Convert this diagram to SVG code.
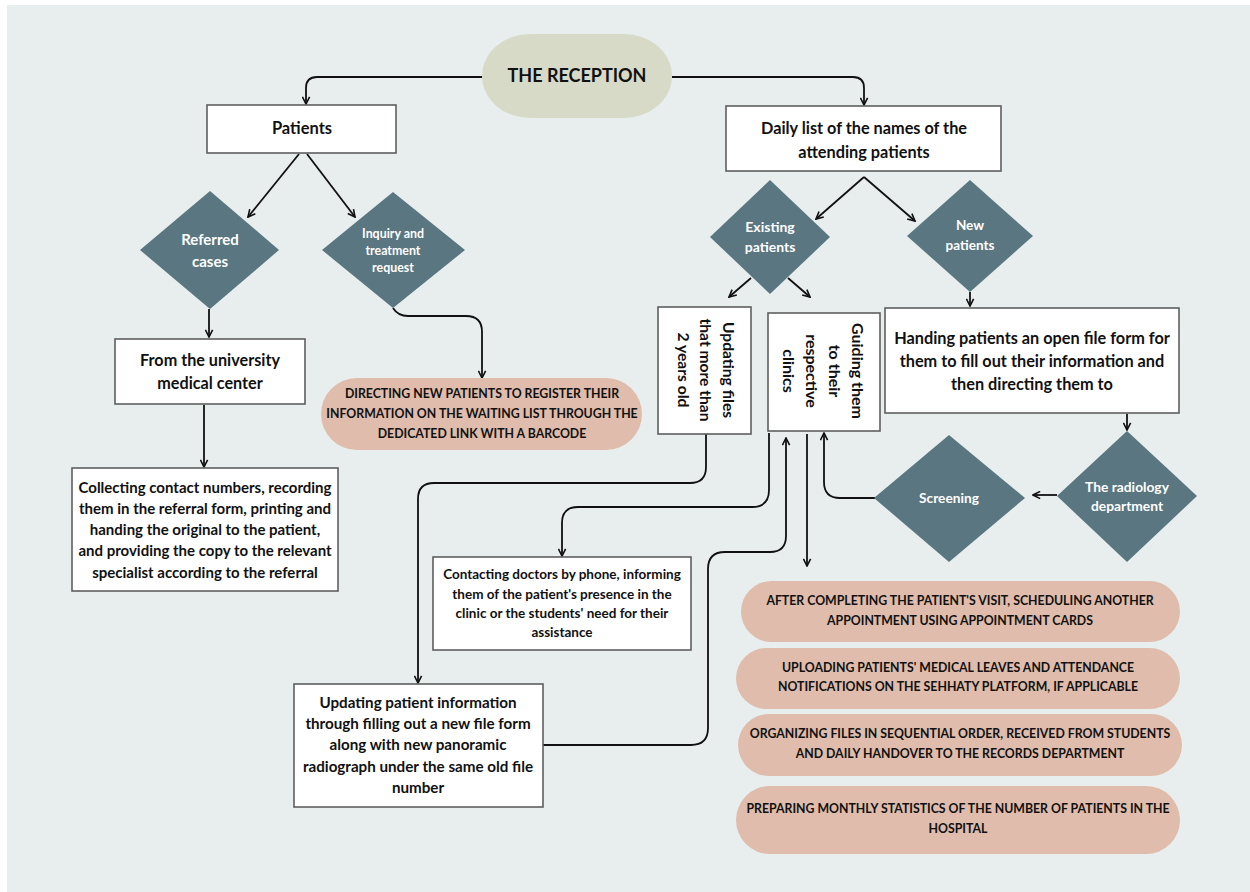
<svg xmlns="http://www.w3.org/2000/svg" width="1250" height="892" viewBox="0 0 1250 892">
  <style>
    .t { font-family: Lato, "Open Sans", "Liberation Sans", sans-serif; font-weight: 700; text-anchor: middle; dominant-baseline: central; fill: #111; }
    .w { fill: #ffffff; }
    .box { fill: #ffffff; stroke: #5e5e5e; stroke-width: 1.6; }
    .dia { fill: #5a7680; }
    .pill { fill: #dfbcab; }
    .pt { font-size: 12.3px; }
    .con { fill: none; stroke: #111; stroke-width: 1.8; }
  </style>
  <defs>
    <marker id="arr" viewBox="0 0 10 10" refX="9" refY="5" markerWidth="9" markerHeight="9" markerUnits="userSpaceOnUse" orient="auto">
      <path d="M1,1 L9,5 L1,9" fill="none" stroke="#111" stroke-width="1.8"/>
    </marker>
  </defs>

  <!-- page -->
  <rect x="0" y="0" width="1250" height="892" fill="#ffffff"/>
  <rect x="7" y="5" width="1243" height="887" fill="#e8eeee"/>

  <!-- connectors -->
  <g id="connectors" class="con">
    <path d="M482,77 H317 Q306,77 306,88 V104" marker-end="url(#arr)"/>
    <path d="M672,77 H853 Q864,77 864,88 V105" marker-end="url(#arr)"/>
    <path d="M299,154 L248,217" marker-end="url(#arr)"/>
    <path d="M307,154 L355,217" marker-end="url(#arr)"/>
    <path d="M209,309 V337" marker-end="url(#arr)"/>
    <path d="M204,405 V467" marker-end="url(#arr)"/>
    <path d="M393,308 Q398,316 408,316 H466 Q482,316 482,332 V378" marker-end="url(#arr)"/>
    <path d="M864,177 L816,219" marker-end="url(#arr)"/>
    <path d="M864,177 L915,221" marker-end="url(#arr)"/>
    <path d="M751,278 L729,297" marker-end="url(#arr)"/>
    <path d="M788,278 L810,297" marker-end="url(#arr)"/>
    <path d="M970,292 V306" marker-end="url(#arr)"/>
    <path d="M1127,414 V430" marker-end="url(#arr)"/>
    <path d="M1057,495 H1033" marker-end="url(#arr)"/>
    <path d="M875,498 H840 Q824,498 824,482 V433" marker-end="url(#arr)"/>
    <path d="M706,434 V467 Q706,483 690,483 H434 Q418,483 418,499 V683" marker-end="url(#arr)"/>
    <path d="M769,433 V490 Q769,507 752,507 H578 Q562,507 562,523 V556" marker-end="url(#arr)"/>
    <path d="M543,745 H691 Q708,745 708,728 V569 Q708,552 725,552 H770 Q786,552 786,536 V438" marker-end="url(#arr)"/>
    <path d="M807,434 V566" marker-end="url(#arr)"/>
  </g>

  <g id="reception">
    <rect x="482" y="34" width="190" height="84" rx="48" ry="42" fill="#d8dac8"/>
    <text class="t" x="577" y="75" font-size="18">THE RECEPTION</text>
  </g>

  <g id="patients">
    <rect class="box" x="207" y="105" width="189" height="48"/>
    <text class="t" x="302" y="128" font-size="16.5">Patients</text>
  </g>

  <g id="daily-list">
    <rect class="box" x="726" y="106" width="275" height="65"/>
    <text class="t" x="864" y="127" font-size="16.3">Daily list of the names of the</text>
    <text class="t" x="864" y="151" font-size="16.3">attending patients</text>
  </g>

  <g id="referred-cases">
    <polygon class="dia" points="210,191 279,250 210,309 140,250"/>
    <text class="t w" x="210" y="239" font-size="15">Referred</text>
    <text class="t w" x="210" y="261" font-size="15">cases</text>
  </g>

  <g id="inquiry">
    <polygon class="dia" points="393,192 465,250 393,308 322,250"/>
    <text class="t w" x="393" y="233" font-size="12.4">Inquiry and</text>
    <text class="t w" x="393" y="250" font-size="12.4">treatment</text>
    <text class="t w" x="393" y="267" font-size="12.4">request</text>
  </g>

  <g id="university">
    <rect class="box" x="115" y="339" width="190" height="65"/>
    <text class="t" x="210" y="359" font-size="16.2">From the university</text>
    <text class="t" x="210" y="382" font-size="16.2">medical center</text>
  </g>

  <g id="collecting">
    <rect class="box" x="72" y="468" width="266" height="123"/>
    <text class="t" x="205" y="487" font-size="15">Collecting contact numbers, recording</text>
    <text class="t" x="205" y="508" font-size="15">them in the referral form, printing and</text>
    <text class="t" x="205" y="529" font-size="15">handing the original to the patient,</text>
    <text class="t" x="205" y="550" font-size="15">and providing the copy to the relevant</text>
    <text class="t" x="205" y="572" font-size="15">specialist according to the referral</text>
  </g>

  <g id="directing">
    <rect class="pill" x="321" y="378" width="321" height="72" rx="36" ry="36"/>
    <text class="t pt" x="482" y="393">DIRECTING NEW PATIENTS TO REGISTER THEIR</text>
    <text class="t pt" x="482" y="413">INFORMATION ON THE WAITING LIST THROUGH THE</text>
    <text class="t pt" x="482" y="433">DEDICATED LINK WITH A BARCODE</text>
  </g>

  <g id="existing-patients">
    <polygon class="dia" points="770,180 830,237 770,294 710,237"/>
    <text class="t w" x="770" y="226" font-size="14">Existing</text>
    <text class="t w" x="770" y="246" font-size="14">patients</text>
  </g>

  <g id="new-patients">
    <polygon class="dia" points="970,180 1033,236 970,292 907,236"/>
    <text class="t w" x="970" y="225" font-size="13.5">New</text>
    <text class="t w" x="970" y="245" font-size="13.5">patients</text>
  </g>

  <g id="updating-files">
    <rect class="box" x="658" y="307" width="93" height="127"/>
    <g transform="translate(706,370) rotate(90)">
      <text class="t" x="0" y="-22.5" font-size="15.6">Updating files</text>
      <text class="t" x="0" y="0" font-size="15.6">that more than</text>
      <text class="t" x="0" y="22.5" font-size="15.6">2 years old</text>
    </g>
  </g>

  <g id="guiding">
    <rect class="box" x="768" y="313" width="112" height="118"/>
    <g transform="translate(823,371) rotate(90)">
      <text class="t" x="0" y="-35" font-size="16">Guiding them</text>
      <text class="t" x="0" y="-12" font-size="16">to their</text>
      <text class="t" x="0" y="11" font-size="16">respective</text>
      <text class="t" x="0" y="34" font-size="16">clinics</text>
    </g>
  </g>

  <g id="handing">
    <rect class="box" x="885" y="308" width="294" height="105"/>
    <text class="t" x="1032" y="337" font-size="16.3">Handing patients an open file form for</text>
    <text class="t" x="1032" y="360" font-size="16.3">them to fill out their information and</text>
    <text class="t" x="1032" y="383" font-size="16.3">then directing them to</text>
  </g>

  <g id="radiology">
    <polygon class="dia" points="1127,431 1197,496 1127,562 1057,496"/>
    <text class="t w" x="1127" y="486" font-size="13.8">The radiology</text>
    <text class="t w" x="1127" y="505" font-size="13.8">department</text>
  </g>

  <g id="screening">
    <polygon class="dia" points="949,435 1025,498 949,562 874,498"/>
    <text class="t w" x="949" y="497" font-size="13.7">Screening</text>
  </g>

  <g id="contacting">
    <rect class="box" x="433" y="557" width="258" height="93"/>
    <text class="t" x="562" y="574" font-size="13.5">Contacting doctors by phone, informing</text>
    <text class="t" x="562" y="594" font-size="13.5">them of the patient's presence in the</text>
    <text class="t" x="562" y="613" font-size="13.5">clinic or the students' need for their</text>
    <text class="t" x="562" y="632" font-size="13.5">assistance</text>
  </g>

  <g id="updating-info">
    <rect class="box" x="294" y="684" width="249" height="123"/>
    <text class="t" x="418" y="702" font-size="15.2">Updating patient information</text>
    <text class="t" x="418" y="723" font-size="15.2">through filling out a new file form</text>
    <text class="t" x="418" y="744" font-size="15.2">along with new panoramic</text>
    <text class="t" x="418" y="766" font-size="15.2">radiograph under the same old file</text>
    <text class="t" x="418" y="787" font-size="15.2">number</text>
  </g>

  <g id="scheduling">
    <rect class="pill" x="741" y="581" width="439" height="61" rx="30.5" ry="30.5"/>
    <text class="t pt" x="960" y="600">AFTER COMPLETING THE PATIENT'S VISIT, SCHEDULING ANOTHER</text>
    <text class="t pt" x="960" y="620">APPOINTMENT USING APPOINTMENT CARDS</text>
  </g>

  <g id="uploading">
    <rect class="pill" x="736" y="648" width="444" height="61" rx="30.5" ry="30.5"/>
    <text class="t pt" x="958" y="667">UPLOADING PATIENTS' MEDICAL LEAVES AND ATTENDANCE</text>
    <text class="t pt" x="958" y="686">NOTIFICATIONS ON THE SEHHATY PLATFORM, IF APPLICABLE</text>
  </g>

  <g id="organizing">
    <rect class="pill" x="738" y="714" width="444" height="62" rx="31" ry="31"/>
    <text class="t pt" x="960" y="733">ORGANIZING FILES IN SEQUENTIAL ORDER, RECEIVED FROM STUDENTS</text>
    <text class="t pt" x="960" y="753">AND DAILY HANDOVER TO THE RECORDS DEPARTMENT</text>
  </g>

  <g id="statistics">
    <rect class="pill" x="736" y="786" width="444" height="68" rx="34" ry="34"/>
    <text class="t pt" x="958" y="808">PREPARING MONTHLY STATISTICS OF THE NUMBER OF PATIENTS IN THE</text>
    <text class="t pt" x="958" y="828">HOSPITAL</text>
  </g>
</svg>
